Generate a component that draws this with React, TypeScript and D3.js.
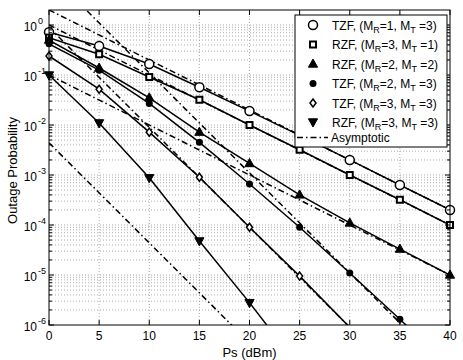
import React from 'react';
import * as d3 from 'd3';

const snr = [0, 5, 10, 15, 20, 25, 30, 35, 40];
const tzf13 = [0.72, 0.38, 0.166, 0.057, 0.019, 0.0062, 0.002, 6.3e-4, 2e-4];
const rzf31 = [0.56, 0.26, 0.091, 0.032, 0.01, 3.2e-3, 1e-3, 3.2e-4, 1e-4];
const rzf22 = [0.5, 0.138, 0.035, 7.2e-3, 1.7e-3, 4e-4, 1.1e-4, 3.3e-5, 1e-5];
const tzf23 = [0.42, 0.125, 0.027, 4.5e-3, 6.6e-4, 9e-5, 1.1e-5, 1.3e-6, 1.5e-7];
const tzf33 = [0.24, 0.052, 7.2e-3, 9e-4, 9e-5, 9.5e-6, 9e-7];
const rzf33 = [0.1, 0.011, 8.8e-4, 4.8e-5, 2.8e-6, 1.4e-7];

// asymptotic lines: values at Ps = 0 and Ps = 40
const asymX = [0, 40];
const asym1 = [2, 2e-4];
const asym2 = [1, 1e-4];
const asym3 = [0.1, 1e-5];
const asym4 = [11, 1.1e-7];
const asym5 = [0.9, 9e-9];
const asym6 = [4.4e-3, 4.4e-11];

const xTicks = [0, 5, 10, 15, 20, 25, 30, 35, 40];
const yExps = [-6, -5, -4, -3, -2, -1, 0];

const series = [
  { name: 'TZF, (M', r: '1', t: '3', v: tzf13, m: 'circle' },
  { name: 'RZF, (M', r: '3', t: '1', v: rzf31, m: 'square' },
  { name: 'RZF, (M', r: '2', t: '2', v: rzf22, m: 'tri' },
  { name: 'TZF, (M', r: '2', t: '3', v: tzf23, m: 'dot' },
  { name: 'TZF, (M', r: '3', t: '3', v: tzf33, m: 'diamond' },
  { name: 'RZF, (M', r: '3', t: '3', v: rzf33, m: 'tridown' },
];
const asyms = [asym1, asym2, asym3, asym4, asym5, asym6];

function Marker({ type, cx, cy }: { type: string; cx: number; cy: number }) {
  switch (type) {
    case 'circle':
      return <circle cx={cx} cy={cy} r={4.5} fill="white" stroke="black" strokeWidth={1.5} />;
    case 'square':
      return <rect x={cx - 3} y={cy - 3} width={6} height={6} fill="white" stroke="black" strokeWidth={2} />;
    case 'tri':
      return <path d={`M${cx},${cy - 5}L${cx + 4.6},${cy + 3.2}L${cx - 4.6},${cy + 3.2}Z`} fill="black" stroke="black" strokeWidth={1} />;
    case 'dot':
      return <circle cx={cx} cy={cy} r={3.5} fill="black" />;
    case 'diamond':
      return <path d={`M${cx},${cy - 4}L${cx + 3},${cy}L${cx},${cy + 4}L${cx - 3},${cy}Z`} fill="white" stroke="black" strokeWidth={1.5} />;
    case 'tridown':
      return <path d={`M${cx},${cy + 5}L${cx + 4.6},${cy - 3.2}L${cx - 4.6},${cy - 3.2}Z`} fill="black" stroke="black" strokeWidth={1} />;
  }
  return null;
}

export default function App() {
  const W = 463, H = 360;
  const L = 49, R = 450, T = 10, B = 325;
  const yMax = Math.pow(10, 0.3);
  const x = d3.scaleLinear().domain([0, 40]).range([L, R]);
  const y = d3.scaleLog().domain([1e-6, yMax]).range([B, T]);
  const line = d3.line<[number, number]>().x((d) => x(d[0])).y((d) => y(d[1]));
  const font = '"Liberation Sans", Arial, Helvetica, sans-serif';

  const minorVals: number[] = [];
  for (let e = -6; e <= 0; e++) {
    for (let k = 2; k <= 9; k++) {
      const v = k * Math.pow(10, e);
      if (v < yMax) minorVals.push(v);
    }
  }

  const legRows = [25, 44.5, 64, 83.5, 103, 122];
  const legAsymY = 137.5;

  return (
    <svg width={W} height={H} style={{ position: 'absolute', left: 0, top: 0, background: 'white' }} fontFamily={font}>
      <defs>
        <clipPath id="plot">
          <rect x={L} y={T} width={R - L} height={B - T} />
        </clipPath>
      </defs>
      <rect x={0} y={0} width={W} height={H} fill="white" />
      {/* grid */}
      <g stroke="#888" strokeWidth={0.7} strokeDasharray="1,2">
        {xTicks.slice(1, -1).map((t) => (
          <line key={'gx' + t} x1={x(t)} x2={x(t)} y1={T} y2={B} />
        ))}
        {yExps.slice(1).map((e) => (
          <line key={'gy' + e} x1={L} x2={R} y1={y(Math.pow(10, e))} y2={y(Math.pow(10, e))} />
        ))}
        {minorVals.map((v, i) => (
          <line key={'gm' + i} x1={L} x2={R} y1={y(v)} y2={y(v)} />
        ))}
      </g>
      {/* data */}
      <g clipPath="url(#plot)" fill="none" stroke="black">
        {asyms.map((a, i) => (
          <path key={'a' + i} d={line(asymX.map((s, j) => [s, a[j]] as [number, number])) || ''} strokeWidth={1.5} strokeDasharray="6,3,1.5,3" />
        ))}
        {series.map((s, i) => (
          <path key={'s' + i} d={line(s.v.map((v, j) => [snr[j], v] as [number, number])) || ''} strokeWidth={1.5} />
        ))}
      </g>
      <g>
        {series.map((s, i) =>
          s.v.map((v, j) =>
            v >= 1e-6 && v <= yMax ? <Marker key={'m' + i + '-' + j} type={s.m} cx={x(snr[j])} cy={y(v)} /> : null
          )
        )}
      </g>
      {/* axes box and ticks */}
      <g stroke="black" strokeWidth={1}>
        <rect x={L} y={T} width={R - L} height={B - T} fill="none" />
        {xTicks.map((t) => (
          <g key={'tx' + t}>
            <line x1={x(t)} x2={x(t)} y1={B} y2={B - 5} />
            <line x1={x(t)} x2={x(t)} y1={T} y2={T + 5} />
          </g>
        ))}
        {yExps.map((e) => (
          <g key={'ty' + e}>
            <line x1={L} x2={L + 5} y1={y(Math.pow(10, e))} y2={y(Math.pow(10, e))} />
            <line x1={R} x2={R - 5} y1={y(Math.pow(10, e))} y2={y(Math.pow(10, e))} />
          </g>
        ))}
        {minorVals.map((v, i) => (
          <g key={'tm' + i}>
            <line x1={L} x2={L + 3} y1={y(v)} y2={y(v)} />
            <line x1={R} x2={R - 3} y1={y(v)} y2={y(v)} />
          </g>
        ))}
      </g>
      {/* tick labels */}
      <g fontSize={12} fill="black">
        {xTicks.map((t) => (
          <text key={'lx' + t} x={x(t)} y={B + 15} textAnchor="middle">{t}</text>
        ))}
        {yExps.map((e) => (
          <text key={'ly' + e} x={37} y={y(Math.pow(10, e)) + 6} textAnchor="end">10</text>
        ))}
        {yExps.map((e) => (
          <text key={'le' + e} x={38} y={y(Math.pow(10, e)) - 1} fontSize={9}>{e === 0 ? '0' : '-' + Math.abs(e)}</text>
        ))}
      </g>
      <text x={(L + R) / 2} y={357} textAnchor="middle" fontSize={13}>Ps (dBm)</text>
      <text transform={`translate(17,${(T + B) / 2 + 3}) rotate(-90)`} textAnchor="middle" fontSize={13}>Outage Probability</text>
      {/* legend */}
      <g>
        <rect x={295} y={15} width={152} height={132} fill="white" stroke="black" strokeWidth={1} />
        {series.map((s, i) => (
          <g key={'lg' + i}>
            <Marker type={s.m} cx={313} cy={legRows[i]} />
            <text x={332} y={legRows[i] + 4.5} fontSize={12}>
              {s.name}
              <tspan fontSize={9} dy={3}>R</tspan>
              <tspan dy={-3}>={s.r}, M</tspan>
              <tspan fontSize={9} dy={3}>T</tspan>
              <tspan dy={-3}> ={s.t})</tspan>
            </text>
          </g>
        ))}
        <line x1={297} x2={328} y1={legAsymY} y2={legAsymY} stroke="black" strokeWidth={1.5} strokeDasharray="6,3,1.5,3" />
        <text x={331} y={legAsymY + 4.5} fontSize={12}>Asymptotic</text>
      </g>
    </svg>
  );
}
